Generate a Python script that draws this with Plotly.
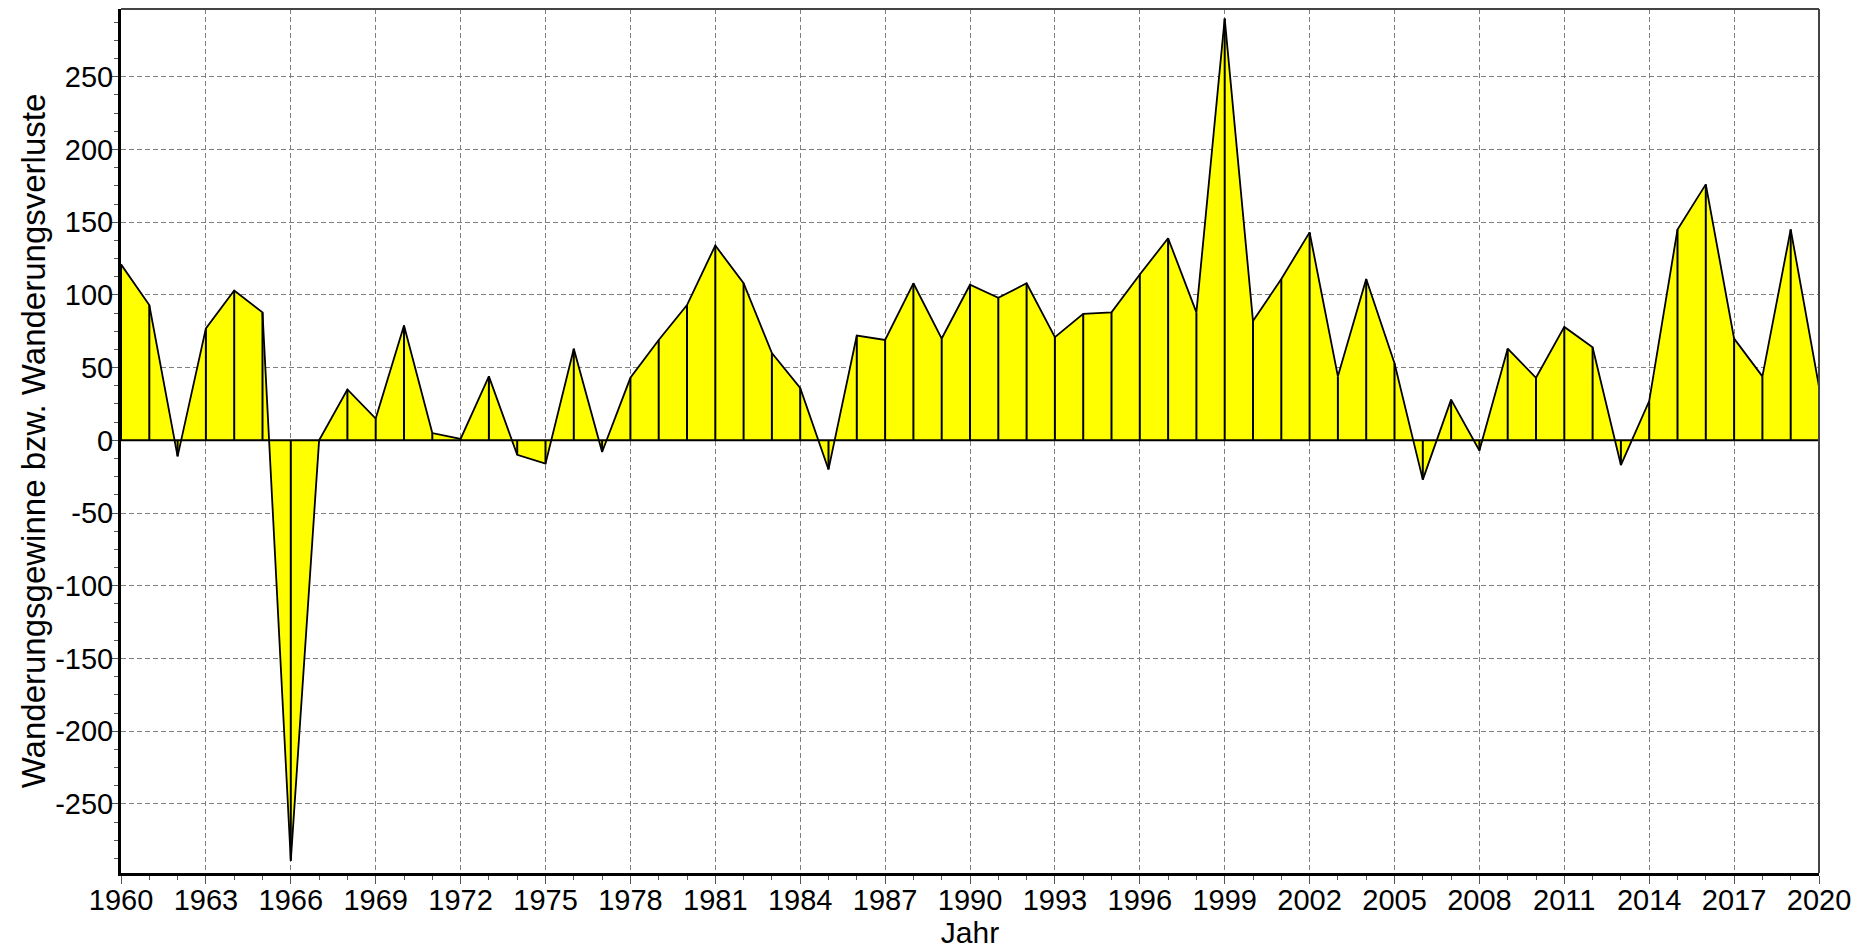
import plotly.graph_objects as go

# ---- data ----
years = list(range(1960, 2021))
saldo = [121, 93, -11, 77, 103, 88, -289, 0, 35, 15,
         79, 5, 1, 44, -10, -16, 63, -8, 43, 69,
         93, 134, 108, 60, 36, -20, 72, 69, 108, 70,
         107, 98, 108, 71, 87, 88, 114, 139, 88, 290,
         82, 111, 143, 44, 111, 53, -27, 28, -7, 63,
         43, 78, 64, -17, 27, 145, 176, 70, 44, 145,
         37]
x_tick_years = list(range(1960, 2021, 3))
x_tick_labels = [str(y) for y in x_tick_years]
y_tick_vals = [-250, -200, -150, -100, -50, 0, 50, 100, 150, 200, 250]
y_tick_labels = [str(v) for v in y_tick_vals]
x_title = "Jahr"
y_title = "Wanderungsgewinne bzw. Wanderungsverluste"

FONT = "Liberation Sans, Arial, sans-serif"

fig = go.Figure()

# filled area with outline
fig.add_trace(go.Scatter(
    x=years, y=saldo, mode="lines", fill="tozeroy",
    fillcolor="#FFFF00", line=dict(color="black", width=1.8),
    hoverinfo="x+y", showlegend=False))

# vertical drop lines from zero to each value
drop_x, drop_y = [], []
for yr, v in zip(years, saldo):
    drop_x += [yr, yr, None]
    drop_y += [0, v, None]
fig.add_trace(go.Scatter(
    x=drop_x, y=drop_y, mode="lines",
    line=dict(color="black", width=2),
    hoverinfo="skip", showlegend=False))

# zero line on top
fig.add_shape(type="line", xref="x domain", yref="y", x0=0, x1=1, y0=0, y1=0,
              line=dict(color="black", width=2), layer="above")
# top and right frame
fig.add_shape(type="line", xref="x domain", yref="y domain", x0=0, x1=1, y0=1, y1=1,
              line=dict(color="#444444", width=2), layer="above")
fig.add_shape(type="line", xref="x domain", yref="y domain", x0=1, x1=1, y0=0, y1=1,
              line=dict(color="#444444", width=2), layer="above")

grid = dict(showgrid=True, gridcolor="#7f7f7f", gridwidth=1, griddash="5px,3px")

fig.update_xaxes(
    range=[1960, 2020], tickmode="array", tickvals=x_tick_years, ticktext=x_tick_labels,
    ticks="outside", ticklen=8, tickwidth=1, tickcolor="#555555",
    showline=True, linecolor="black", linewidth=3,
    zeroline=False, automargin=False, ticklabelstandoff=-9,
    minor=dict(dtick=1, tick0=1960, ticks="outside", ticklen=4, tickcolor="#555555", showgrid=False),
    tickfont=dict(family=FONT, size=29, color="black"),
    title=dict(text=x_title, font=dict(family=FONT, size=30, color="black"), standoff=0),
    **grid)

fig.update_yaxes(
    range=[-297.5, 296.6], tickmode="array", tickvals=y_tick_vals, ticktext=y_tick_labels,
    ticks="outside", ticklen=6, tickwidth=1, tickcolor="#555555",
    showline=True, linecolor="black", linewidth=3,
    zeroline=False, automargin=False, ticklabelstandoff=-7,
    minor=dict(dtick=12.5, tick0=0, ticks="outside", ticklen=4, tickcolor="#555555", showgrid=False),
    tickfont=dict(family=FONT, size=29, color="black"),
    title=dict(text=y_title, font=dict(family=FONT, size=33, color="black"), standoff=0),
    **grid)

fig.update_layout(
    width=1870, height=952,
    margin=dict(l=121, r=51, t=9, b=79),
    paper_bgcolor="white", plot_bgcolor="white",
    font=dict(family=FONT, color="black"),
    showlegend=False,
)

fig.write_html("out.html", config={"displayModeBar": False},
               post_script="document.body.style.margin='0px';document.body.style.overflow='hidden';")
